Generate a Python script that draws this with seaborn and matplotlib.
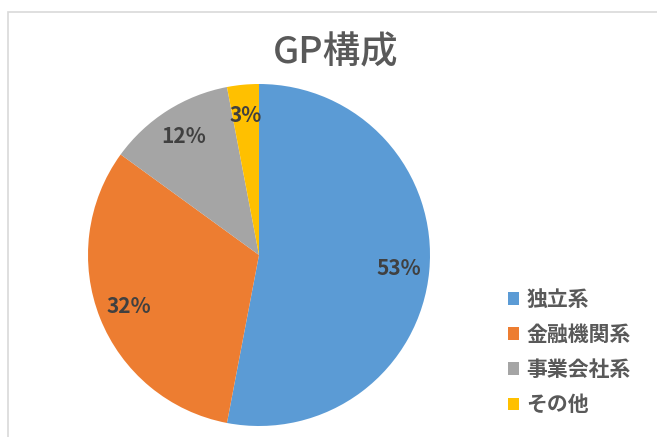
import matplotlib
matplotlib.use("Agg")
import matplotlib.pyplot as plt
import seaborn as sns
from matplotlib.patches import Rectangle, Patch

categories = ["独立系", "金融機関系", "事業会社系", "その他"]
values = [53, 32, 12, 3]
colors = ["#5B9BD5", "#ED7D31", "#A5A5A5", "#FFC000"]
title = "GP構成"

sns.set_theme(style="white")
plt.rcParams['font.family'] = ['Noto Sans CJK JP', 'DejaVu Sans']

fig = plt.figure(figsize=(6.57, 4.37), dpi=100)
fig.patch.set_facecolor("white")

# chart border
fig.add_artist(Rectangle((8/657, -0.05), 1.0, (437-12)/437 + 0.05,
                         transform=fig.transFigure, fill=False,
                         edgecolor="#D9D9D9", linewidth=1.2))

ax = fig.add_axes([88/657, 11/437, 342/657, 342/437])
wedges, texts, autotexts = ax.pie(
    values, colors=colors, startangle=90, counterclock=False,
    autopct=lambda p: f"{p:.0f}%", pctdistance=0.82, radius=1,
    wedgeprops=dict(edgecolor="none"),
    textprops=dict(color="#404040", fontsize=15, fontweight="bold"))
ax.set_xlim(-1, 1)
ax.set_ylim(-1, 1)
ax.set_aspect("equal")
ax.axis("off")

fig.text(336/657, 1 - 52/437, title, ha="center", va="center",
         fontsize=27, color="#595959", fontweight="medium")

handles = [Patch(facecolor=c, edgecolor="none") for c in colors]
fig.legend(handles, categories, loc="center left",
           bbox_to_anchor=(489/657, 1 - 352/437), frameon=False,
           handlelength=0.55, handleheight=0.55,
           handletextpad=0.35, labelspacing=0.68,
           prop=dict(family=['Noto Sans CJK JP', 'DejaVu Sans'],
                     size=15, weight="bold"),
           labelcolor="#595959")

fig.savefig("out.png", dpi=100)
